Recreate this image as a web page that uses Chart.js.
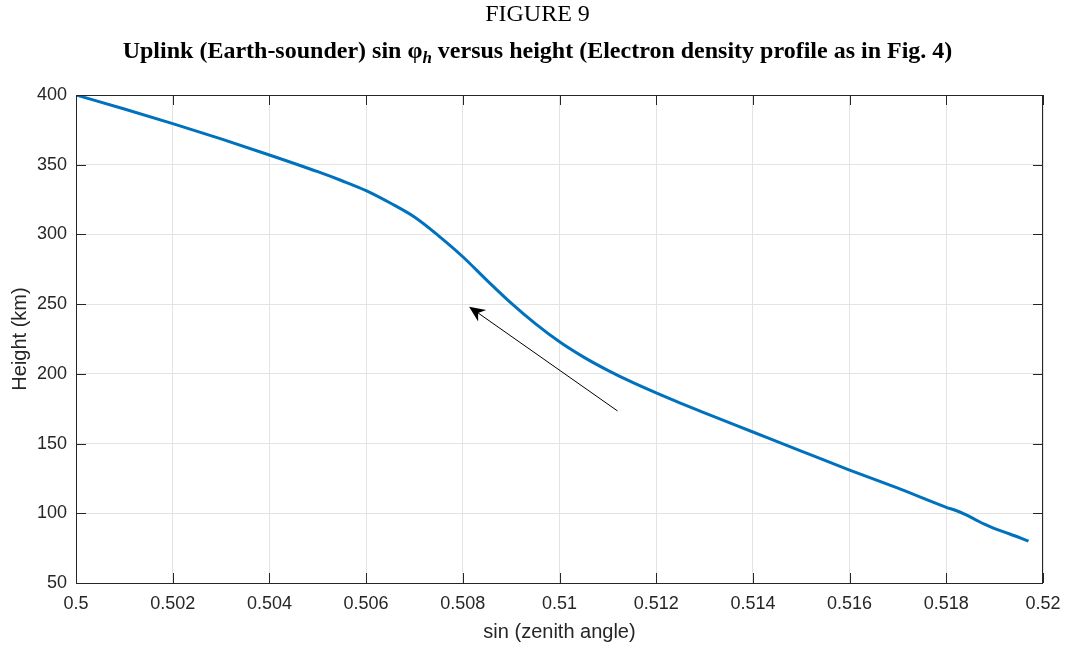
<!DOCTYPE html>
<html>
<head>
<meta charset="utf-8">
<script src="https://cdn.jsdelivr.net/npm/chart.js@4"></script>
<style>
  body { margin: 0; background: #fff; }
  #wrap { position: relative; width: 1065px; height: 650px; }
  canvas { position: absolute; left: 0; top: 0; }
  .ttl { position: absolute; left: 0; width: 1065px; text-align: center; color: #000;
         font-family: "Liberation Serif", "Times New Roman", serif; white-space: nowrap;
         font-size: 24px; line-height: 24px; padding-left: 10px; box-sizing: border-box; }
  #t1 { top: 1px; }
  #t2 { top: 38px; font-weight: bold; }
  #t2 sub { font-size: 17px; vertical-align: -5px; line-height: 0; }
</style>
</head>
<body>
<div id="wrap">
  <canvas id="chart" width="1065" height="650"></canvas>
  <div class="ttl" id="t1">FIGURE 9</div>
  <div class="ttl" id="t2">Uplink (Earth-sounder) sin φ<sub><i>h</i></sub> versus height (Electron density profile as in Fig. 4)</div>
</div>
<script>
// sin(zenith angle) vs height
const sinZenith = [0.5, 0.501, 0.502, 0.503, 0.504, 0.505, 0.5055, 0.506, 0.5065, 0.507,
  0.5075, 0.508, 0.5085, 0.509, 0.5095, 0.510, 0.5105, 0.511, 0.5115, 0.512,
  0.5125, 0.513, 0.514, 0.515, 0.516, 0.517, 0.518, 0.5182, 0.5184, 0.5186, 0.5188,
  0.519, 0.5193, 0.5197];
const heightKm = [400, 390, 379.5, 368.5, 357, 345, 338.5, 331.4, 322.5, 312.5,
  299, 284, 267, 250.7, 236, 223, 212, 202.5, 194, 186.3,
  179, 172, 158.3, 144.6, 131, 118, 104.3, 102, 99, 95.5, 92,
  89, 85.3, 80];

const xTicks = [0.5, 0.502, 0.504, 0.506, 0.508, 0.51, 0.512, 0.514, 0.516, 0.518, 0.52];
const xTickLabels = ['0.5', '0.502', '0.504', '0.506', '0.508', '0.51', '0.512', '0.514', '0.516', '0.518', '0.52'];
const yTicks = [50, 100, 150, 200, 250, 300, 350, 400];
const yTickLabels = ['50', '100', '150', '200', '250', '300', '350', '400'];

// annotation arrow, [tail, head] in data units
const arrowTail = [0.5112, 173.4];
const arrowHead = [0.50813, 248.2];

const axisColor = '#262626';
const fontFam = '"Liberation Sans", Arial, Helvetica, sans-serif';

// box around the plot with inward ticks (matlab style)
const framePlugin = {
  id: 'frame',
  afterDraw(chart) {
    const { ctx, chartArea: a, scales } = chart;
    const tl = 10;
    ctx.save();
    ctx.strokeStyle = axisColor;
    ctx.lineWidth = 1;
    ctx.strokeRect(Math.round(a.left) + 0.5, Math.round(a.top) + 0.5,
      Math.round(a.right - a.left) - 1, Math.round(a.bottom - a.top));
    ctx.beginPath();
    xTicks.forEach(v => {
      const px = Math.round(scales.x.getPixelForValue(v)) + 0.5;
      ctx.moveTo(px, a.bottom); ctx.lineTo(px, a.bottom - tl);
      ctx.moveTo(px, a.top); ctx.lineTo(px, a.top + tl);
    });
    yTicks.forEach(v => {
      const py = Math.round(scales.y.getPixelForValue(v)) + 0.5;
      ctx.moveTo(a.left, py); ctx.lineTo(a.left + tl, py);
      ctx.moveTo(a.right, py); ctx.lineTo(a.right - tl, py);
    });
    ctx.stroke();
    ctx.restore();
  }
};

const arrowPlugin = {
  id: 'arrow',
  afterDatasetsDraw(chart) {
    const { ctx, scales } = chart;
    const x0 = scales.x.getPixelForValue(arrowTail[0]);
    const y0 = scales.y.getPixelForValue(arrowTail[1]);
    const x1 = scales.x.getPixelForValue(arrowHead[0]);
    const y1 = scales.y.getPixelForValue(arrowHead[1]);
    const ang = Math.atan2(y1 - y0, x1 - x0);
    const len = 16, wid = 7, back = 11;
    ctx.save();
    ctx.strokeStyle = '#000';
    ctx.fillStyle = '#000';
    ctx.lineWidth = 1;
    ctx.beginPath();
    ctx.moveTo(x0, y0);
    ctx.lineTo(x1 - Math.cos(ang) * back, y1 - Math.sin(ang) * back);
    ctx.stroke();
    // notched head
    const bx = x1 - Math.cos(ang) * len, by = y1 - Math.sin(ang) * len;
    ctx.beginPath();
    ctx.moveTo(x1, y1);
    ctx.lineTo(bx - Math.sin(ang) * wid, by + Math.cos(ang) * wid);
    ctx.lineTo(x1 - Math.cos(ang) * back, y1 - Math.sin(ang) * back);
    ctx.lineTo(bx + Math.sin(ang) * wid, by - Math.cos(ang) * wid);
    ctx.closePath();
    ctx.fill();
    ctx.restore();
  }
};

new Chart(document.getElementById('chart'), {
  type: 'line',
  data: {
    datasets: [{
      data: sinZenith.map((x, i) => ({ x: x, y: heightKm[i] })),
      borderColor: '#0072BD',
      borderWidth: 3,
      pointRadius: 0,
      cubicInterpolationMode: 'monotone',
      fill: false
    }]
  },
  options: {
    responsive: false,
    animation: false,
    events: [],
    layout: { padding: { left: 0, right: 22, top: 95, bottom: 0 } },
    plugins: { legend: { display: false }, tooltip: { enabled: false } },
    scales: {
      x: {
        type: 'linear',
        min: 0.5,
        max: 0.52,
        afterBuildTicks: s => { s.ticks = xTicks.map(v => ({ value: v })); },
        afterFit: s => { s.height = 67; s.paddingRight = 0; s.paddingLeft = 0; },
        ticks: {
          callback: (v, i) => xTickLabels[i],
          color: axisColor,
          font: { family: fontFam, size: 18 },
          padding: 10,
          maxRotation: 0,
          autoSkip: false
        },
        grid: { color: '#e3e3e3', drawTicks: false },
        border: { display: false },
        title: {
          display: true,
          text: 'sin (zenith angle)',
          color: axisColor,
          font: { family: fontFam, size: 20 },
          padding: { top: 0, bottom: 6 }
        }
      },
      y: {
        min: 50,
        max: 400,
        afterBuildTicks: s => { s.ticks = yTicks.map(v => ({ value: v })); },
        afterFit: s => { s.width = 76; },
        ticks: {
          callback: (v, i) => yTickLabels[i],
          color: axisColor,
          font: { family: fontFam, size: 18 },
          padding: 9,
          autoSkip: false
        },
        grid: { color: '#e3e3e3', drawTicks: false },
        border: { display: false },
        title: {
          display: true,
          text: 'Height (km)',
          color: axisColor,
          font: { family: fontFam, size: 20 },
          padding: { top: 8, bottom: 0 }
        }
      }
    }
  },
  plugins: [arrowPlugin, framePlugin]
});
</script>
</body>
</html>
